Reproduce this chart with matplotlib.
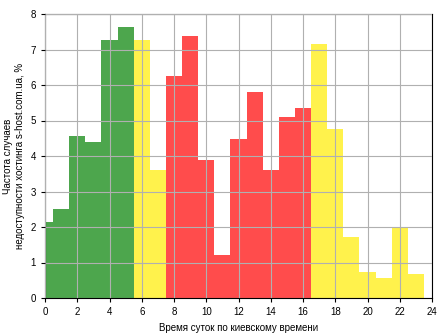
import matplotlib
matplotlib.use('Agg')
import matplotlib.pyplot as plt

plt.rcParams['font.family'] = ['Liberation Sans', 'DejaVu Sans']

hours = list(range(24))
freq = [2.15, 2.51, 4.57, 4.40, 7.28, 7.64, 7.28, 3.61, 6.26, 7.39, 3.90, 1.22,
        4.49, 5.81, 3.61, 5.11, 5.36, 7.16, 4.77, 1.73, 0.74, 0.55, 1.99, 0.68]
zones = ['g'] * 6 + ['y'] * 2 + ['r'] * 9 + ['y'] * 7
zone_colors = {'g': '#4da64d', 'y': '#fff24c', 'r': '#ff4c4c'}

fig = plt.figure(figsize=(4.48, 3.36), dpi=100)
ax = fig.add_axes([45 / 448, 38 / 336, 387 / 448, 284 / 336])

ax.bar(hours, freq, width=1.0, color=[zone_colors[z] for z in zones], zorder=1)

ax.set_xlim(0, 24)
ax.set_ylim(0, 8)
ax.set_xticks(range(0, 25, 2))
ax.set_yticks(range(0, 9))
ax.tick_params(labelsize=7, length=3)
ax.grid(True, color='#b0b0b0', linewidth=0.8, zorder=2)
ax.set_axisbelow(False)

ax.set_xlabel('Время суток по киевскому времени', fontsize=7)
ax.set_ylabel('Частота случаев\nнедоступности хостинга s-host.com.ua, %', fontsize=7)

fig.savefig('out.png', dpi=100)
